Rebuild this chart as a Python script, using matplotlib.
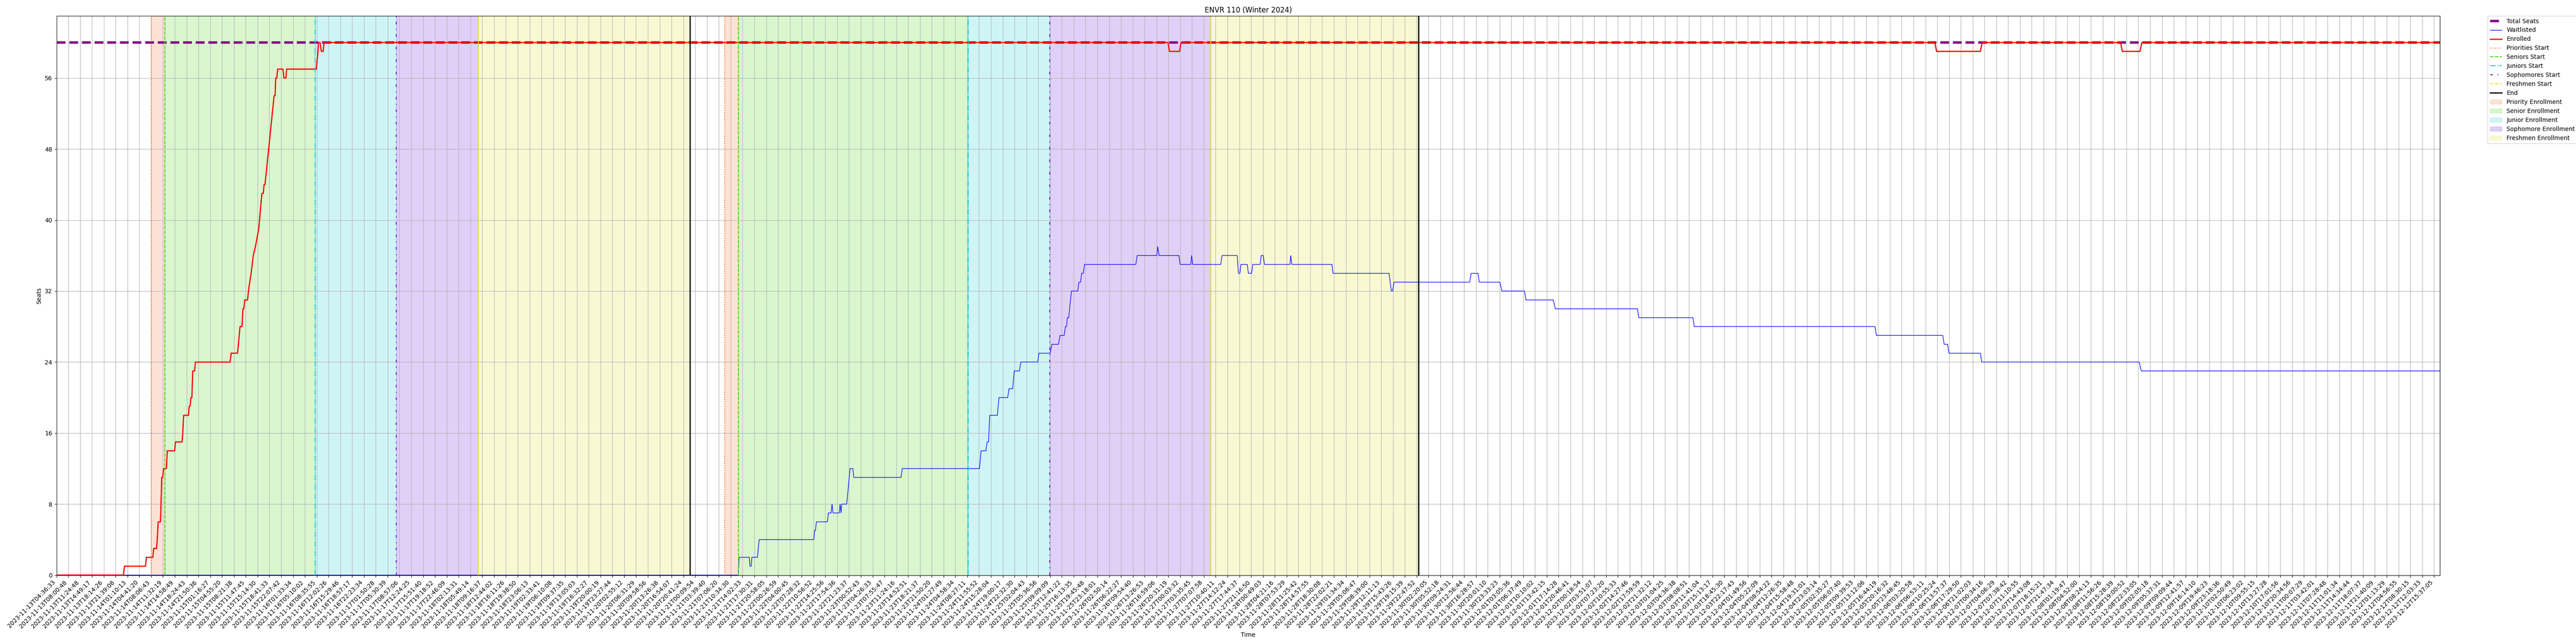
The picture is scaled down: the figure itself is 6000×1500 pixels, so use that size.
import matplotlib
matplotlib.use("Agg")
import matplotlib.pyplot as plt

TITLE = "ENVR 110 (Winter 2024)"
TOTAL_SEATS = 60
LAST_POS = 201.5

# tick labels, one per sample tick (partly estimated where the picture is unreadable)
tick_labels = [
    "2023-11-13T04:36:33", "2023-11-13T08:00:48", "2023-11-13T11:24:48", "2023-11-13T14:49:17",
    "2023-11-13T18:14:26", "2023-11-13T21:39:08", "2023-11-14T01:10:13", "2023-11-14T04:41:20",
    "2023-11-14T08:06:43", "2023-11-14T11:32:19", "2023-11-14T14:58:49", "2023-11-14T18:24:43",
    "2023-11-14T21:50:36", "2023-11-15T01:16:27", "2023-11-15T04:55:20", "2023-11-15T08:21:38",
    "2023-11-15T11:47:45", "2023-11-15T15:14:30", "2023-11-15T18:41:33", "2023-11-15T22:07:42",
    "2023-11-16T01:33:34", "2023-11-16T05:10:02", "2023-11-16T08:35:55", "2023-11-16T12:02:26",
    "2023-11-16T15:29:46", "2023-11-16T18:57:17", "2023-11-16T22:23:34", "2023-11-17T01:50:28",
    "2023-11-17T05:30:39", "2023-11-17T08:57:06", "2023-11-17T12:24:25", "2023-11-17T15:51:40",
    "2023-11-17T19:18:52", "2023-11-17T22:46:09", "2023-11-18T02:13:31", "2023-11-18T05:49:14",
    "2023-11-18T09:16:37", "2023-11-18T12:44:02", "2023-11-18T16:11:26", "2023-11-18T19:38:50",
    "2023-11-18T23:06:13", "2023-11-19T02:33:41", "2023-11-19T06:10:08", "2023-11-19T09:37:35",
    "2023-11-19T13:05:03", "2023-11-19T16:32:27", "2023-11-19T20:00:19", "2023-11-19T23:27:44",
    "2023-11-20T02:55:12", "2023-11-20T06:31:29", "2023-11-20T09:58:56", "2023-11-20T13:26:38",
    "2023-11-20T16:54:07", "2023-11-20T20:41:24", "2023-11-21T00:09:54", "2023-11-21T03:39:40",
    "2023-11-21T07:06:20", "2023-11-21T10:34:30", "2023-11-21T14:02:33", "2023-11-21T17:30:31",
    "2023-11-21T20:58:05", "2023-11-22T00:26:59", "2023-11-22T04:00:45", "2023-11-22T07:28:32",
    "2023-11-22T10:56:52", "2023-11-22T14:25:56", "2023-11-22T17:54:36", "2023-11-22T21:23:37",
    "2023-11-23T00:52:43", "2023-11-23T04:26:33", "2023-11-23T07:55:47", "2023-11-23T11:24:16",
    "2023-11-23T14:52:51", "2023-11-23T18:21:37", "2023-11-23T21:50:20", "2023-11-24T01:27:49",
    "2023-11-24T04:58:34", "2023-11-24T08:27:11", "2023-11-24T11:55:52", "2023-11-24T15:28:04",
    "2023-11-24T19:00:17", "2023-11-24T22:32:30", "2023-11-25T02:04:43", "2023-11-25T05:36:56",
    "2023-11-25T09:09:09", "2023-11-25T12:41:22", "2023-11-25T16:13:35", "2023-11-25T19:45:48",
    "2023-11-25T23:18:01", "2023-11-26T02:50:14", "2023-11-26T06:22:27", "2023-11-26T09:54:40",
    "2023-11-26T13:26:53", "2023-11-26T16:59:06", "2023-11-26T20:31:19", "2023-11-27T00:03:32",
    "2023-11-27T03:35:45", "2023-11-27T07:07:58", "2023-11-27T10:40:11", "2023-11-27T14:12:24",
    "2023-11-27T17:44:37", "2023-11-27T21:16:50", "2023-11-28T00:49:03", "2023-11-28T04:21:16",
    "2023-11-28T07:53:29", "2023-11-28T11:25:42", "2023-11-28T14:57:55", "2023-11-28T18:30:08",
    "2023-11-28T22:02:21", "2023-11-29T01:34:34", "2023-11-29T05:06:47", "2023-11-29T08:39:00",
    "2023-11-29T12:11:13", "2023-11-29T15:43:26", "2023-11-29T19:15:39", "2023-11-29T22:47:52",
    "2023-11-30T02:20:05", "2023-11-30T05:52:18", "2023-11-30T09:24:31", "2023-11-30T12:56:44",
    "2023-11-30T16:28:57", "2023-11-30T20:01:10", "2023-11-30T23:33:23", "2023-12-01T03:05:36",
    "2023-12-01T06:37:49", "2023-12-01T10:10:02", "2023-12-01T13:42:15", "2023-12-01T17:14:28",
    "2023-12-01T20:46:41", "2023-12-02T00:18:54", "2023-12-02T03:51:07", "2023-12-02T07:23:20",
    "2023-12-02T10:55:33", "2023-12-02T14:27:46", "2023-12-02T17:59:59", "2023-12-02T21:32:12",
    "2023-12-03T01:04:25", "2023-12-03T04:36:38", "2023-12-03T08:08:51", "2023-12-03T11:41:04",
    "2023-12-03T15:13:17", "2023-12-03T18:45:30", "2023-12-03T22:17:43", "2023-12-04T01:49:56",
    "2023-12-04T05:22:09", "2023-12-04T08:54:22", "2023-12-04T12:26:35", "2023-12-04T15:58:48",
    "2023-12-04T19:31:01", "2023-12-04T23:03:14", "2023-12-05T02:35:27", "2023-12-05T06:07:40",
    "2023-12-05T09:39:53", "2023-12-05T13:12:06", "2023-12-05T16:44:19", "2023-12-05T20:16:32",
    "2023-12-05T23:48:45", "2023-12-06T03:20:58", "2023-12-06T06:53:11", "2023-12-06T10:25:24",
    "2023-12-06T13:57:37", "2023-12-06T17:29:50", "2023-12-06T21:02:03", "2023-12-07T00:34:16",
    "2023-12-07T04:06:29", "2023-12-07T07:38:42", "2023-12-07T11:10:55", "2023-12-07T14:43:08",
    "2023-12-07T18:15:21", "2023-12-07T21:47:34", "2023-12-08T01:19:47", "2023-12-08T04:52:00",
    "2023-12-08T08:24:13", "2023-12-08T11:56:26", "2023-12-08T15:28:39", "2023-12-08T19:00:52",
    "2023-12-08T22:33:05", "2023-12-09T02:05:18", "2023-12-09T05:37:31", "2023-12-09T09:09:44",
    "2023-12-09T12:41:57", "2023-12-09T16:14:10", "2023-12-09T19:46:23", "2023-12-09T23:18:36",
    "2023-12-10T02:50:49", "2023-12-10T06:23:02", "2023-12-10T09:55:15", "2023-12-10T13:27:28",
    "2023-12-10T17:01:56", "2023-12-10T20:34:56", "2023-12-11T00:07:29", "2023-12-11T03:42:01",
    "2023-12-11T07:28:48", "2023-12-11T11:01:34", "2023-12-11T14:34:44", "2023-12-11T18:07:37",
    "2023-12-11T21:40:09", "2023-12-12T01:13:29", "2023-12-12T04:56:55", "2023-12-12T08:30:15",
    "2023-12-12T12:03:33", "2023-12-12T15:37:05",
]

# enrolled series, sample position / seats at each change
enrolled_pos = [
    0, 5.66, 5.75, 7.53, 7.60, 8.15, 8.22, 8.46, 8.52, 8.60, 8.79, 8.84, 8.90, 8.98, 9.06,
    9.30, 9.37, 9.99, 10.06, 10.62, 10.68, 10.75, 11.16, 11.22, 11.29, 11.37, 11.45, 11.52,
    11.68, 11.75, 14.68, 14.77, 15.31, 15.38, 15.52, 15.69, 15.76, 15.84, 15.92, 16.16, 16.23,
    16.34, 16.46, 16.64, 16.82, 17.10, 17.37, 17.49, 17.55, 17.63, 18.40, 18.48, 18.54, 18.63,
    18.70, 19.15, 19.23, 19.40, 19.46, 21.97, 22.11, 22.16, 22.29, 22.39, 22.55, 22.62,
    93.97, 94.10, 94.95, 95.07, 158.80, 158.95, 162.65, 162.80, 174.50, 174.65, 176.15, 176.30,
    LAST_POS,
]
enrolled_seats = [
    0, 0, 1, 1, 2, 2, 3, 3, 4, 6, 6, 8, 11, 11, 12,
    12, 14, 14, 15, 15, 16, 18, 18, 19, 19, 20, 20, 23,
    23, 24, 24, 25, 25, 26, 28, 28, 30, 30, 31, 31, 32,
    33, 34, 36, 37, 39, 43, 43, 44, 44, 54, 54, 56, 56,
    57, 57, 56, 56, 57, 57, 59, 60, 60, 59, 59, 60,
    60, 59, 59, 60, 60, 59, 59, 60, 60, 59, 59, 60,
    60,
]

# waitlisted series
waitlist_pos = [
    0, 57.64, 57.68, 57.71, 58.57, 58.63, 58.73, 58.79, 59.26, 59.41, 64.03, 64.09, 64.16, 64.25,
    65.18, 65.26, 65.49, 65.57, 65.65, 66.18, 66.25, 66.33, 66.39, 66.81, 67.09, 67.33, 67.41,
    71.40, 71.50, 78.03, 78.17, 78.58, 78.68, 78.80, 78.90, 79.55, 79.68, 80.42, 80.53, 80.84,
    80.97, 81.41, 81.53, 82.96, 83.06, 84.01, 84.15, 84.72, 84.84, 85.19, 85.30, 85.40, 85.46,
    85.58, 85.81, 86.34, 86.44, 86.58, 86.67, 86.81, 86.92, 91.25, 91.37, 93.03, 93.10, 93.22,
    94.89, 95.00, 95.90, 95.97, 96.07, 98.43, 98.54, 99.82, 99.93, 100.05, 100.14, 100.67, 100.77,
    101.04, 101.14, 101.76, 101.85, 102.02, 102.13, 104.28, 104.35, 104.45, 107.83, 107.92,
    112.66, 112.85, 112.96, 113.08, 119.48, 119.60, 120.18, 120.29, 122.03, 122.20, 124.11,
    124.23, 126.54, 126.72, 133.66, 133.78, 138.35, 138.46, 153.74, 153.86, 159.47, 159.59,
    159.88, 160.00, 162.65, 162.77, 176.08, 176.25, LAST_POS,
]
waitlist_seats = [
    0, 0, 1, 2, 2, 1, 1, 2, 2, 4, 4, 5, 5, 6,
    6, 7, 7, 8, 7, 7, 8, 7, 8, 8, 12, 12, 11,
    11, 12, 12, 14, 14, 15, 15, 18, 18, 20, 20, 21, 21,
    23, 23, 24, 24, 25, 25, 26, 26, 27, 27, 28, 28, 29,
    29, 32, 32, 33, 33, 34, 34, 35, 35, 36, 36, 37, 36,
    36, 35, 35, 36, 35, 35, 36, 36, 34, 34, 35, 35, 34,
    34, 35, 35, 36, 36, 35, 35, 36, 35, 35, 34,
    34, 32, 32, 33, 33, 34, 34, 33, 33, 32, 32,
    31, 31, 30, 30, 29, 29, 28, 28, 27, 27, 26,
    26, 25, 25, 24, 24, 23, 23,
]

# start of each enrollment window, two rounds of registration
priority_starts = [7.99, 56.48]
senior_starts = [9.17, 57.66]
junior_starts = [21.87, 77.09]
sophomore_starts = [28.72, 83.98]
freshman_starts = [35.65, 97.57]
end_times = [53.56, 115.16]

fig, ax = plt.subplots(figsize=(60, 15), dpi=100)
fig.subplots_adjust(left=131.5 / 6000, right=5683 / 6000, top=1 - 37 / 1500, bottom=1 - 1339.5 / 1500)

ax.plot([0, LAST_POS], [TOTAL_SEATS, TOTAL_SEATS], color="purple", linestyle="--", linewidth=4, label="Total Seats")
ax.plot(waitlist_pos, waitlist_seats, color="blue", linewidth=1, label="Waitlisted")
ax.plot(enrolled_pos, enrolled_seats, color="red", linewidth=2, label="Enrolled")

starts = [
    (priority_starts, "#f27030", ":", "Priorities Start"),
    (senior_starts, "#44d611", "--", "Seniors Start"),
    (junior_starts, "#11ccd6", "-.", "Juniors Start"),
    (sophomore_starts, "#6611d6", (0, (3, 5, 1, 5)), "Sophomores Start"),
    (freshman_starts, "#e0e020", (0, (3, 1, 1, 1)), "Freshmen Start"),
]
for xs, color, style, label in starts:
    for i, x in enumerate(xs):
        ax.axvline(x, color=color, linestyle=style, linewidth=1.5, label=label if i == 0 else None)
for i, x in enumerate(end_times):
    ax.axvline(x, color="black", linewidth=2, label="End" if i == 0 else None)

spans = [
    (priority_starts, senior_starts, "#f27030", "Priority Enrollment"),
    (senior_starts, junior_starts, "#44d611", "Senior Enrollment"),
    (junior_starts, sophomore_starts, "#11ccd6", "Junior Enrollment"),
    (sophomore_starts, freshman_starts, "#6611d6", "Sophomore Enrollment"),
    (freshman_starts, end_times, "#e0e020", "Freshmen Enrollment"),
]
for begins, ends, color, label in spans:
    for i in range(len(begins)):
        ax.axvspan(begins[i], ends[i], color=color, alpha=0.2, label=label if i == 0 else None)

ax.set_xticks(range(len(tick_labels)))
ax.set_xticklabels(tick_labels, rotation=45, ha="right")
ax.set_yticks(range(0, 57, 8))
ax.set_xlim(0, LAST_POS)
ax.set_ylim(0, TOTAL_SEATS * 1.05)
ax.grid(True)
ax.set_title(TITLE)
ax.set_xlabel("Time")
ax.set_ylabel("Seats")
ax.legend(loc="upper left", bbox_to_anchor=(1.02, 1), borderaxespad=0)

fig.savefig("out.png")
